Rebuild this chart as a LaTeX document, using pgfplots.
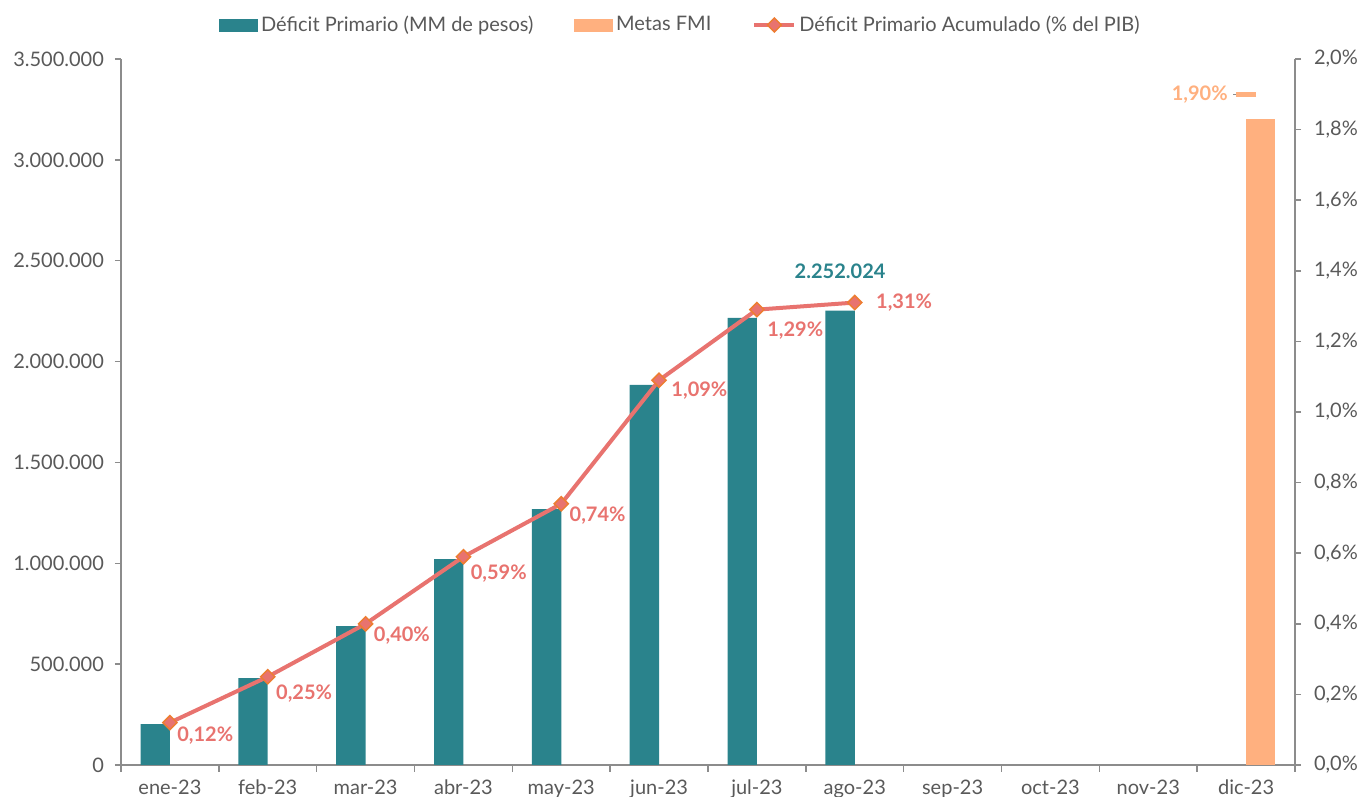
\documentclass[border=0pt]{standalone}
\usepackage{fontspec}
\setmainfont{Lato}
\usepackage{pgfplots}
\pgfplotsset{compat=1.18}
\definecolor{teal1}{HTML}{2A838C}
\definecolor{fmi}{HTML}{FFB07F}
\definecolor{linec}{HTML}{E8736F}
\definecolor{mkedge}{HTML}{ED7D31}
\definecolor{axgray}{HTML}{8C8C8C}
\definecolor{txtgray}{HTML}{595959}
\begin{document}
\begin{tikzpicture}[font=\fontsize{10}{12}\selectfont]
\begin{axis}[name=ax1, scale only axis, width=587pt, height=353pt,
  xmin=-0.5, xmax=11.5, ymin=0, ymax=3500000,
  axis y line*=left, axis x line*=bottom,
  axis line style={axgray, line width=0.75pt},
  xtick={0,...,11},
  xticklabels={ene-23,feb-23,mar-23,abr-23,may-23,jun-23,jul-23,ago-23,sep-23,oct-23,nov-23,dic-23},
  major x tick style={draw=none},
  minor xtick={-0.5,0.5,...,11.5},
  minor x tick style={axgray, line width=0.75pt},
  minor tick length=3.5pt,
  tick align=outside,
  ytick={0,500000,1000000,1500000,2000000,2500000,3000000,3500000},
  major y tick style={axgray, line width=0.75pt},
  major tick length=3pt,
  scaled y ticks=false,
  yticklabel style={/pgf/number format/.cd, fixed, 1000 sep={.}, assume math mode=true, /tikz/.cd, xshift=-2pt},
  tick label style={text=txtgray},
  xticklabel style={yshift=-1pt},
  clip=false,
]
\addplot[ybar, bar width=0.3, bar shift=-0.15, fill=teal1, draw=none] coordinates {
  (0,203000)(1,431000)(2,689000)(3,1021000)(4,1269000)(5,1884000)(6,2216000)(7,2252024)};
\addplot[ybar, bar width=0.3, bar shift=0.15, fill=fmi, draw=none] coordinates {(11,3203000)};
\node[text=teal1, font=\fontsize{10}{12}\selectfont\bfseries] at (axis cs:6.85,2450000) {2.252.024};
\end{axis}
\begin{axis}[scale only axis, width=587pt, height=353pt,
  xmin=-0.5, xmax=11.5, ymin=0, ymax=2.0,
  axis y line*=right, axis x line=none,
  axis line style={axgray, line width=0.75pt},
  ytick={0,0.2,0.4,0.6,0.8,1.0,1.2,1.4,1.6,1.8,2.0},
  major y tick style={axgray, line width=0.75pt},
  major tick length=3pt, tick align=outside,
  yticklabel={\pgfmathprintnumber[fixed,fixed zerofill,precision=1,use comma,assume math mode=true]{\tick}\%},
  yticklabel style={xshift=3pt},
  tick label style={text=txtgray},
  clip=false,
  legend style={at={(0.477,1)}, anchor=center, yshift=17pt, draw=none, fill=none,
    legend columns=3, text=txtgray,
    /tikz/every even column/.append style={column sep=19pt},
    nodes={inner sep=1.5pt}},
  legend cell align=left,
]
\addlegendimage{legend image code/.code={\fill[teal1] (0pt,-3pt) rectangle (19pt,3pt);}}
\addlegendentry{Déficit Primario (MM de pesos)}
\addlegendimage{legend image code/.code={\fill[fmi] (0pt,-3pt) rectangle (19pt,3pt);}}
\addlegendentry{Metas FMI}
\addplot[linec, line width=2pt, mark=square*, mark size=2.5pt,
  mark options={fill=linec, draw=mkedge, line width=0.75pt, rotate=45},
  legend image code/.code={\draw[linec, line width=2pt] (0pt,0pt) -- (20pt,0pt);
     \path[fill=linec, draw=mkedge, line width=0.75pt] (10pt,3.5pt) -- (13.5pt,0pt) -- (10pt,-3.5pt) -- (6.5pt,0pt) -- cycle;}]
  coordinates {(0,0.12)(1,0.25)(2,0.40)(3,0.59)(4,0.74)(5,1.09)(6,1.29)(7,1.31)};
\addlegendentry{Déficit Primario Acumulado (\% del PIB)}
\draw[axgray, line width=0.75pt] ([xshift=-6.5pt]axis cs:11,1.90) -- ([xshift=-3pt]axis cs:11,1.90);
\addplot[only marks, mark=-, mark size=5pt, mark options={draw=fmi, line width=2.5pt}, forget plot]
  coordinates {(11,1.90)};
\begin{scope}[every node/.style={inner sep=0pt, anchor=west, text=linec, font=\fontsize{10}{12}\selectfont\bfseries}]
\node[xshift=3.5pt, yshift=-6.5pt] at (axis cs:0,0.12) {0,12\%};
\node[xshift=4pt, yshift=-8.5pt] at (axis cs:1,0.25) {0,25\%};
\node[xshift=4pt, yshift=-6pt] at (axis cs:2,0.40) {0,40\%};
\node[xshift=3.5pt, yshift=-8.5pt] at (axis cs:3,0.59) {0,59\%};
\node[xshift=4pt, yshift=-6pt] at (axis cs:4,0.74) {0,74\%};
\node[xshift=6pt, yshift=-5pt] at (axis cs:5,1.09) {1,09\%};
\node[xshift=5pt, yshift=-10.5pt] at (axis cs:6,1.29) {1,29\%};
\node[xshift=10.5pt, yshift=0pt] at (axis cs:7,1.31) {1,31\%};
\end{scope}
\node[inner sep=0pt, anchor=east, text=fmi, font=\fontsize{10}{12}\selectfont\bfseries] at ([xshift=-9pt]axis cs:11,1.90) {1,90\%};
\end{axis}
\path (ax1.south west) ++(-60.5pt,-16pt) coordinate (bl);
\path (ax1.north east) ++(32.5pt,29.5pt) coordinate (tr);
\pgfresetboundingbox
\useasboundingbox (bl) rectangle (tr);
\end{tikzpicture}
\end{document}
